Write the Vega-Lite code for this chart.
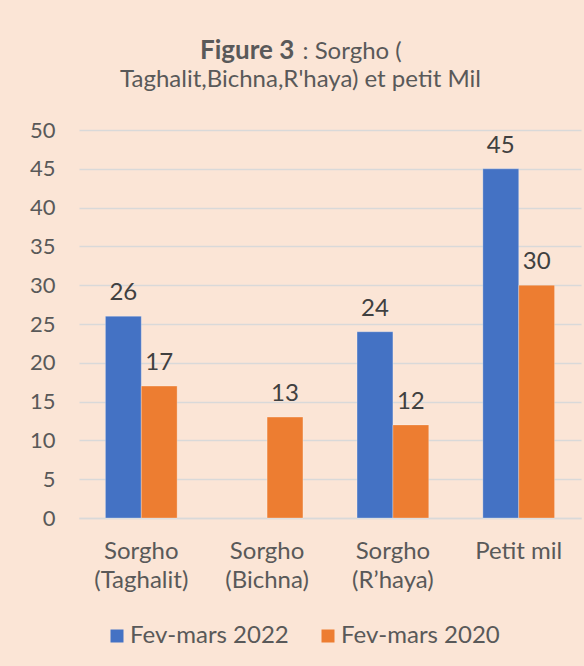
{
  "$schema": "https://vega.github.io/schema/vega-lite/v6.json",
  "autosize": {"type": "none"},
  "padding": {"left": 79, "top": 130, "right": 3, "bottom": 148},
  "width": 502,
  "height": 388,
  "background": "#FBE5D6",
  "config": {"font": "Lato", "view": {"stroke": null}},
  "title": {"text": "Figure 3", "anchor": "start", "frame": "group", "dx": 121, "fontSize": 26, "fontWeight": "bold", "color": "#595959", "font": "Lato", "baseline": "alphabetic", "offset": -46},
  "data": {"values": [
    {"category": "Sorgho (Taghalit)", "period": "Fev-mars 2022", "value": 26},
    {"category": "Sorgho (Taghalit)", "period": "Fev-mars 2020", "value": 17},
    {"category": "Sorgho (Bichna)", "period": "Fev-mars 2020", "value": 13},
    {"category": "Sorgho (R’haya)", "period": "Fev-mars 2022", "value": 24},
    {"category": "Sorgho (R’haya)", "period": "Fev-mars 2020", "value": 12},
    {"category": "Petit mil", "period": "Fev-mars 2022", "value": 45},
    {"category": "Petit mil", "period": "Fev-mars 2020", "value": 30}
  ]},
  "encoding": {
    "x": {"field": "category", "type": "nominal", "sort": ["Sorgho (Taghalit)", "Sorgho (Bichna)", "Sorgho (R’haya)", "Petit mil"],
      "scale": {"paddingInner": 0.43, "paddingOuter": 0.21},
      "axis": {"labelAngle": 0, "labelFontSize": 24, "labelColor": "#595959", "labelFont": "Lato",
        "labelExpr": "indexof(datum.label, ' (') > 0 ? [substring(datum.label, 0, indexof(datum.label, ' (')), substring(datum.label, indexof(datum.label, ' (') + 1)] : datum.label",
        "labelLineHeight": 29, "labelPadding": 40, "labelBaseline": "alphabetic", "ticks": false, "tickSize": 0,
        "domain": true, "domainColor": "#D9D9D9", "domainWidth": 1.5,
        "title": "Taghalit,Bichna,R'haya) et petit Mil", "titleFontSize": 24, "titleFontWeight": "normal", "titleColor": "#595959", "titleFont": "Lato",
        "titleX": 221, "titleY": -432, "titleBaseline": "alphabetic", "titleAlign": "center", "titleAnchor": null}},
    "xOffset": {"field": "period", "type": "nominal", "sort": ["Fev-mars 2022", "Fev-mars 2020"], "scale": {"paddingInner": 0, "paddingOuter": 0}},
    "y": {"field": "value", "type": "quantitative", "scale": {"domain": [0, 50], "nice": false},
      "axis": {"values": [0, 5, 10, 15, 20, 25, 30, 35, 40, 45, 50], "grid": true, "gridColor": "#D9D9D9", "gridWidth": 1.5,
        "domain": false, "ticks": false, "tickSize": 0, "labelFontSize": 22, "labelColor": "#595959", "labelFont": "Lato", "labelPadding": 24,
        "title": ": Sorgho (", "titleFontSize": 24, "titleFontWeight": "normal", "titleColor": "#595959", "titleFont": "Lato",
        "titleAngle": 0, "titleX": 223, "titleY": -72, "titleBaseline": "alphabetic", "titleAlign": "left", "titleAnchor": null}}
  },
  "layer": [
    {"mark": {"type": "bar", "stroke": "#FFFFFF", "strokeWidth": 0.8, "strokeOpacity": 0.35},
      "encoding": {"color": {"field": "period", "type": "nominal",
        "scale": {"domain": ["Fev-mars 2022", "Fev-mars 2020"], "range": ["#4472C4", "#ED7D31"]},
        "legend": {"title": null, "orient": "none", "direction": "horizontal", "legendX": 26, "legendY": 494, "padding": 0,
          "symbolType": "square", "symbolSize": 169, "symbolStrokeWidth": 0, "labelFontSize": 24, "labelColor": "#595959", "labelFont": "Lato",
          "labelOffset": 1, "columnPadding": 27, "labelLimit": 300}}}},
    {"mark": {"type": "text", "baseline": "alphabetic", "dy": -16, "fontSize": 24, "color": "#404040", "font": "Lato"},
      "encoding": {"text": {"field": "value", "type": "quantitative"}}}
  ]
}
